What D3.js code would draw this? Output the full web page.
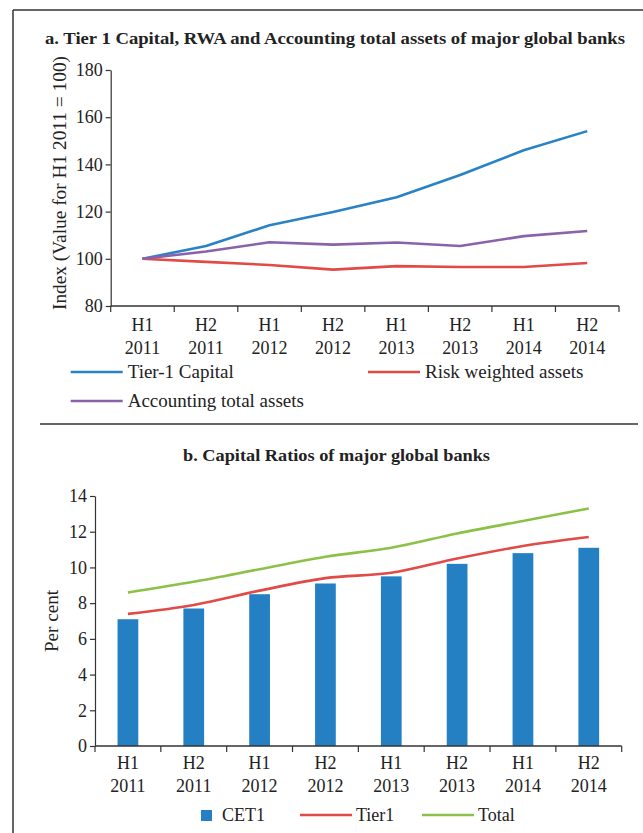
<!DOCTYPE html>
<html>
<head>
<meta charset="utf-8">
<script src="https://cdn.jsdelivr.net/npm/d3@7"></script>
<style>
  body { margin: 0; background: #fff; }
  svg { display: block; font-family: "Liberation Serif", "DejaVu Serif", serif; }
  .axis path, .axis line { stroke: #333; stroke-width: 1.2; }
  .axis text { font-size: 18px; fill: #222; font-family: "Liberation Serif", serif; }
  .lbl { font-size: 18px; fill: #222; }
  .leg { font-size: 19px; fill: #222; }
  .title { font-size: 17px; font-weight: bold; fill: #222; }
</style>
</head>
<body>
<svg id="chart" width="643" height="833"></svg>
<script>
// periods shared by both panels
const periods = ['H1 2011', 'H2 2011', 'H1 2012', 'H2 2012', 'H1 2013', 'H2 2013', 'H1 2014', 'H2 2014'];

// panel a: index values (H1 2011 = 100)
const tier1Capital = [100, 105.4, 114.2, 119.8, 126.1, 135.5, 146, 154.1];
const riskWeighted = [100, 98.7, 97.4, 95.4, 96.9, 96.5, 96.5, 98.2];
const accountingAssets = [100, 103.1, 107, 106, 106.9, 105.4, 109.6, 111.8];
const indexTicks = [80, 100, 120, 140, 160, 180];

// panel b: capital ratios, per cent
const cet1 = [7.1, 7.7, 8.5, 9.1, 9.5, 10.2, 10.8, 11.1];
const tier1Ratio = [7.4, 7.9, 8.7, 9.4, 9.7, 10.5, 11.2, 11.7];
const totalRatio = [8.6, 9.2, 9.9, 10.6, 11.1, 11.9, 12.6, 13.3];
const pctTicks = [0, 2, 4, 6, 8, 10, 12, 14];

const colors = { blue: '#2a82c6', red: '#e04a47', purple: '#8a62aa', green: '#8cc147', bar: '#2480c2' };

const svg = d3.select('#chart');

// frame
svg.append('line').attr('x1', 13).attr('x2', 13).attr('y1', 10).attr('y2', 833)
  .attr('stroke', '#333').attr('stroke-width', 1.5);
svg.append('line').attr('x1', 13).attr('x2', 643).attr('y1', 10).attr('y2', 10)
  .attr('stroke', '#333').attr('stroke-width', 1.5);
svg.append('line').attr('x1', 40).attr('x2', 638).attr('y1', 424).attr('y2', 424)
  .attr('stroke', '#333').attr('stroke-width', 1.5);

// titles
svg.append('text').attr('class', 'title').attr('x', 45).attr('y', 44)
  .attr('textLength', 580).attr('lengthAdjust', 'spacingAndGlyphs')
  .text('a. Tier 1 Capital, RWA and Accounting total assets of  major global banks');
svg.append('text').attr('class', 'title').attr('x', 183).attr('y', 461)
  .attr('textLength', 307).attr('lengthAdjust', 'spacingAndGlyphs')
  .text('b. Capital Ratios of major global banks');

// draws x axis with ticks at band edges and two-line labels
function drawXAxis(g, x, yPos, line1Dy, line2Dy) {
  const edges = periods.map(p => x(p)).concat([x.range()[1]]);
  g.append('line').attr('x1', x.range()[0]).attr('x2', x.range()[1])
    .attr('y1', yPos).attr('y2', yPos).attr('stroke', '#333').attr('stroke-width', 1.3);
  g.selectAll('.xtick').data(edges).join('line')
    .attr('x1', d => d).attr('x2', d => d).attr('y1', yPos).attr('y2', yPos + 6)
    .attr('stroke', '#333').attr('stroke-width', 1.2);
  const lab = g.selectAll('.xlab').data(periods).join('text')
    .attr('class', 'lbl').attr('text-anchor', 'middle')
    .attr('x', d => x(d) + x.bandwidth() / 2);
  lab.append('tspan').attr('x', d => x(d) + x.bandwidth() / 2).attr('y', yPos + line1Dy).text(d => d.split(' ')[0]);
  lab.append('tspan').attr('x', d => x(d) + x.bandwidth() / 2).attr('y', yPos + line2Dy).text(d => d.split(' ')[1]);
}

// ---------- panel a ----------
const xA = d3.scaleBand().domain(periods).range([110.7, 619]);
const yA = d3.scaleLinear().domain([80, 180]).range([306, 70]);
const gA = svg.append('g');

gA.append('g').attr('class', 'axis').attr('transform', 'translate(110.7,0)')
  .call(d3.axisLeft(yA).tickValues(indexTicks).tickSize(5).tickSizeOuter(0).tickPadding(3));
drawXAxis(gA, xA, 306, 25, 48);

const lineA = d3.line().x((d, i) => xA(periods[i]) + xA.bandwidth() / 2).y(d => yA(d));
[[tier1Capital, colors.blue], [riskWeighted, colors.red], [accountingAssets, colors.purple]].forEach(([vals, c]) => {
  gA.append('path').datum(vals).attr('d', lineA).attr('fill', 'none')
    .attr('stroke', c).attr('stroke-width', 2.6).attr('stroke-linejoin', 'round');
});

gA.append('text').attr('class', 'lbl').attr('text-anchor', 'middle')
  .attr('transform', 'translate(66,183) rotate(-90)')
  .attr('textLength', 254).attr('lengthAdjust', 'spacingAndGlyphs')
  .text('Index (Value for H1 2011 = 100)');

// legend a
const legA = [
  { name: 'Tier-1 Capital', color: colors.blue, x: 70.7, y: 372 },
  { name: 'Risk weighted assets', color: colors.red, x: 368, y: 372 },
  { name: 'Accounting total assets', color: colors.purple, x: 70.7, y: 401 }
];
legA.forEach(d => {
  gA.append('line').attr('x1', d.x).attr('x2', d.x + 52).attr('y1', d.y).attr('y2', d.y)
    .attr('stroke', d.color).attr('stroke-width', 2.6);
  gA.append('text').attr('class', 'leg').attr('x', d.x + 57).attr('y', d.y + 6).text(d.name);
});

// ---------- panel b ----------
const xB = d3.scaleBand().domain(periods).range([95, 621.7]);
const yB = d3.scaleLinear().domain([0, 14]).range([746, 496]);
const gB = svg.append('g');

const barW = xB.bandwidth() * 0.315;
gB.selectAll('.bar').data(cet1).join('rect')
  .attr('x', (d, i) => xB(periods[i]) + xB.bandwidth() / 2 - barW / 2)
  .attr('width', barW)
  .attr('y', d => yB(d))
  .attr('height', d => yB(0) - yB(d))
  .attr('fill', colors.bar);

gB.append('g').attr('class', 'axis').attr('transform', 'translate(95,0)')
  .call(d3.axisLeft(yB).tickValues(pctTicks).tickSize(5).tickSizeOuter(0).tickPadding(3));
drawXAxis(gB, xB, 746, 23, 46);

const lineB = d3.line().curve(d3.curveMonotoneX)
  .x((d, i) => xB(periods[i]) + xB.bandwidth() / 2).y(d => yB(d));
[[tier1Ratio, colors.red], [totalRatio, colors.green]].forEach(([vals, c]) => {
  gB.append('path').datum(vals).attr('d', lineB).attr('fill', 'none')
    .attr('stroke', c).attr('stroke-width', 2.6).attr('stroke-linejoin', 'round');
});

gB.append('text').attr('class', 'leg').attr('text-anchor', 'middle')
  .attr('transform', 'translate(58,621) rotate(-90)')
  .attr('textLength', 62).attr('lengthAdjust', 'spacingAndGlyphs')
  .text('Per cent');

// legend b
gB.append('rect').attr('x', 201).attr('y', 810).attr('width', 11).attr('height', 11).attr('fill', colors.bar);
gB.append('text').attr('class', 'lbl').attr('x', 222).attr('y', 821).text('CET1');
[{ name: 'Tier1', color: colors.red, x: 300 }, { name: 'Total', color: colors.green, x: 422 }].forEach(d => {
  gB.append('line').attr('x1', d.x).attr('x2', d.x + 52).attr('y1', 815).attr('y2', 815)
    .attr('stroke', d.color).attr('stroke-width', 2.6);
  gB.append('text').attr('class', 'lbl').attr('x', d.x + 56).attr('y', 821).text(d.name);
});
</script>
</body>
</html>
